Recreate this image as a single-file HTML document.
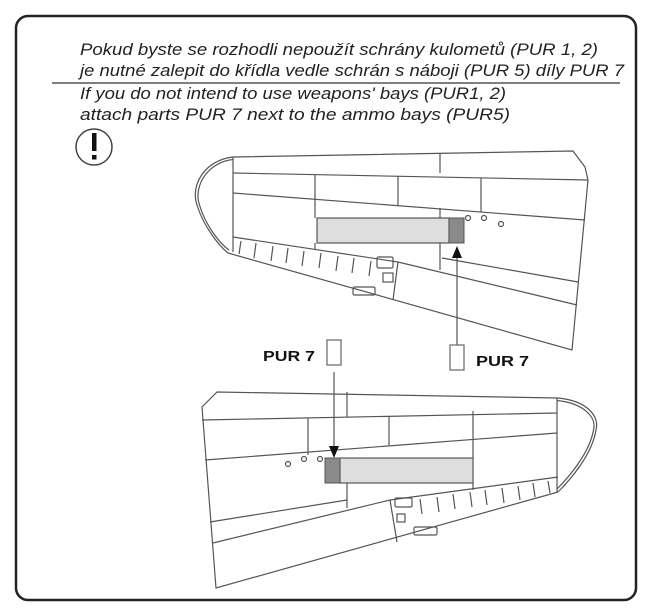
<!DOCTYPE html>
<html><head><meta charset="utf-8"><style>
html,body{margin:0;padding:0;background:#fff;}
svg{display:block}
</style></head><body>
<svg width="650" height="612" viewBox="0 0 650 612" xmlns="http://www.w3.org/2000/svg">
<rect x="16" y="16" width="620" height="584" rx="12" ry="12" fill="#fff" stroke="#222" stroke-width="2.5"/>
<g font-family="Liberation Sans, sans-serif" font-style="italic" font-size="17" fill="#222">
<text x="80" y="55" textLength="518" lengthAdjust="spacingAndGlyphs">Pokud byste se rozhodli nepoužít schrány kulometů (PUR 1, 2)</text>
<text x="80" y="76" textLength="544" lengthAdjust="spacingAndGlyphs">je nutné zalepit do křídla vedle schrán s náboji (PUR 5) díly PUR 7</text>
<text x="80" y="99" textLength="426" lengthAdjust="spacingAndGlyphs">If you do not intend to use weapons' bays (PUR1, 2)</text>
<text x="80" y="120" textLength="430" lengthAdjust="spacingAndGlyphs">attach parts PUR 7 next to the ammo bays (PUR5)</text>
</g>
<line x1="52" y1="83" x2="620" y2="83" stroke="#555" stroke-width="1.5"/>
<circle cx="94" cy="147" r="18" fill="none" stroke="#444" stroke-width="1.5"/>
<rect x="92" y="133" width="4.5" height="18" fill="#111"/>
<rect x="92" y="155" width="4.5" height="4.5" fill="#111"/>

<g fill="none" stroke="#555" stroke-width="1.2">
<!-- TOP WING -->
<path d="M233,157 L573,151 L585,167 L588,180 L572,350 L228,253"/>
<path d="M233,157 C205,160 190,185 197,205 C203,225 218,245 228,253"/>
<path d="M233,159.5 C208,162 193,186 199.5,205 C205,224 219,243 229,250"/>
<line x1="233" y1="157" x2="233" y2="252"/>
<line x1="233" y1="173" x2="588" y2="180"/>
<line x1="233" y1="193" x2="585" y2="220"/>
<line x1="315" y1="175" x2="315" y2="218"/>
<line x1="315" y1="243" x2="315" y2="250"/>
<line x1="440" y1="153" x2="440" y2="173"/>
<line x1="440" y1="208" x2="440" y2="218"/>
<line x1="440" y1="243" x2="440" y2="270"/>
<line x1="398" y1="176" x2="398" y2="206"/>
<line x1="481" y1="178" x2="481" y2="212"/>
<line x1="233" y1="237" x2="398" y2="262"/>
<line x1="398" y1="262" x2="393" y2="300"/>
<line x1="398" y1="262" x2="577" y2="305"/>
<line x1="442" y1="258" x2="578" y2="282"/>
<rect x="377" y="257" width="16" height="11" rx="1.5"/>
<rect x="383" y="273" width="10" height="9"/>
<rect x="353" y="287" width="22" height="8" rx="1.5"/>
<path d="M241,241 L239,254 M256,243 L254,258 M273,246 L271,261 M288,248 L286,263 M304,251 L302,266 M321,253 L319,268 M338,256 L336,271 M354,258 L352,273 M371,261 L369,276"/>
<circle cx="468" cy="218" r="2.5"/>
<circle cx="484" cy="218" r="2.5"/>
<circle cx="501" cy="224" r="2.5"/>

<!-- BOTTOM WING -->
<path d="M557,398 L217,392 L202,407 L216,588 L558,492"/>
<path d="M557,398 C585,400 600,415 596,430 C592,455 570,480 558,492"/>
<path d="M557,400.5 C583,403 597,417 593.5,430 C589.5,453 569,477 557,489"/>
<line x1="557" y1="398" x2="557" y2="492"/>
<line x1="202" y1="420" x2="557" y2="413"/>
<line x1="205" y1="460" x2="557" y2="433"/>
<line x1="347" y1="392" x2="347" y2="417"/>
<line x1="347" y1="483" x2="347" y2="508"/>
<line x1="308" y1="418" x2="308" y2="455"/>
<line x1="389" y1="416" x2="389" y2="445"/>
<line x1="473" y1="411" x2="473" y2="458"/>
<line x1="473" y1="483" x2="473" y2="490"/>
<line x1="210" y1="522" x2="347" y2="500"/>
<line x1="213" y1="543" x2="390" y2="500"/>
<line x1="390" y1="500" x2="558" y2="477"/>
<line x1="390" y1="500" x2="397" y2="542"/>
<rect x="395" y="498" width="17" height="9" rx="1.5"/>
<rect x="397" y="514" width="8" height="8"/>
<rect x="414" y="527" width="23" height="8" rx="1.5"/>
<path d="M420,499 L422,514 M437,497 L439,512 M453,494 L455,509 M470,492 L472,507 M485,490 L487,505 M502,488 L504,503 M518,486 L520,500 M533,483 L535,497 M548,481 L550,493"/>
<circle cx="288" cy="464" r="2.5"/>
<circle cx="304" cy="459" r="2.5"/>
<circle cx="320" cy="459" r="2.5"/>
</g>

<!-- bays -->
<rect x="317" y="218" width="132" height="25" fill="#dedede" stroke="#555" stroke-width="1.2"/>
<rect x="449" y="218" width="15" height="25" fill="#8a8a8a" stroke="#555" stroke-width="1"/>
<rect x="340" y="458" width="133" height="25" fill="#dedede" stroke="#555" stroke-width="1.2"/>
<rect x="325" y="458" width="15" height="25" fill="#8a8a8a" stroke="#555" stroke-width="1"/>

<!-- arrows -->
<line x1="457" y1="258" x2="457" y2="345" stroke="#555" stroke-width="1.2"/>
<polygon points="457,246 452,258 462,258" fill="#111"/>
<line x1="334" y1="372" x2="334" y2="446" stroke="#555" stroke-width="1.2"/>
<polygon points="334,458 329,446 339,446" fill="#111"/>
<rect x="450" y="345" width="14" height="25" fill="#fff" stroke="#666" stroke-width="1.2"/>
<rect x="327" y="340" width="14" height="25" fill="#fff" stroke="#666" stroke-width="1.2"/>
<g font-family="Liberation Sans, sans-serif" font-weight="bold" font-size="15" fill="#111">
<text x="263" y="361" textLength="52" lengthAdjust="spacingAndGlyphs">PUR 7</text>
<text x="476" y="366" textLength="53" lengthAdjust="spacingAndGlyphs">PUR 7</text>
</g>
</svg>
</body></html>
